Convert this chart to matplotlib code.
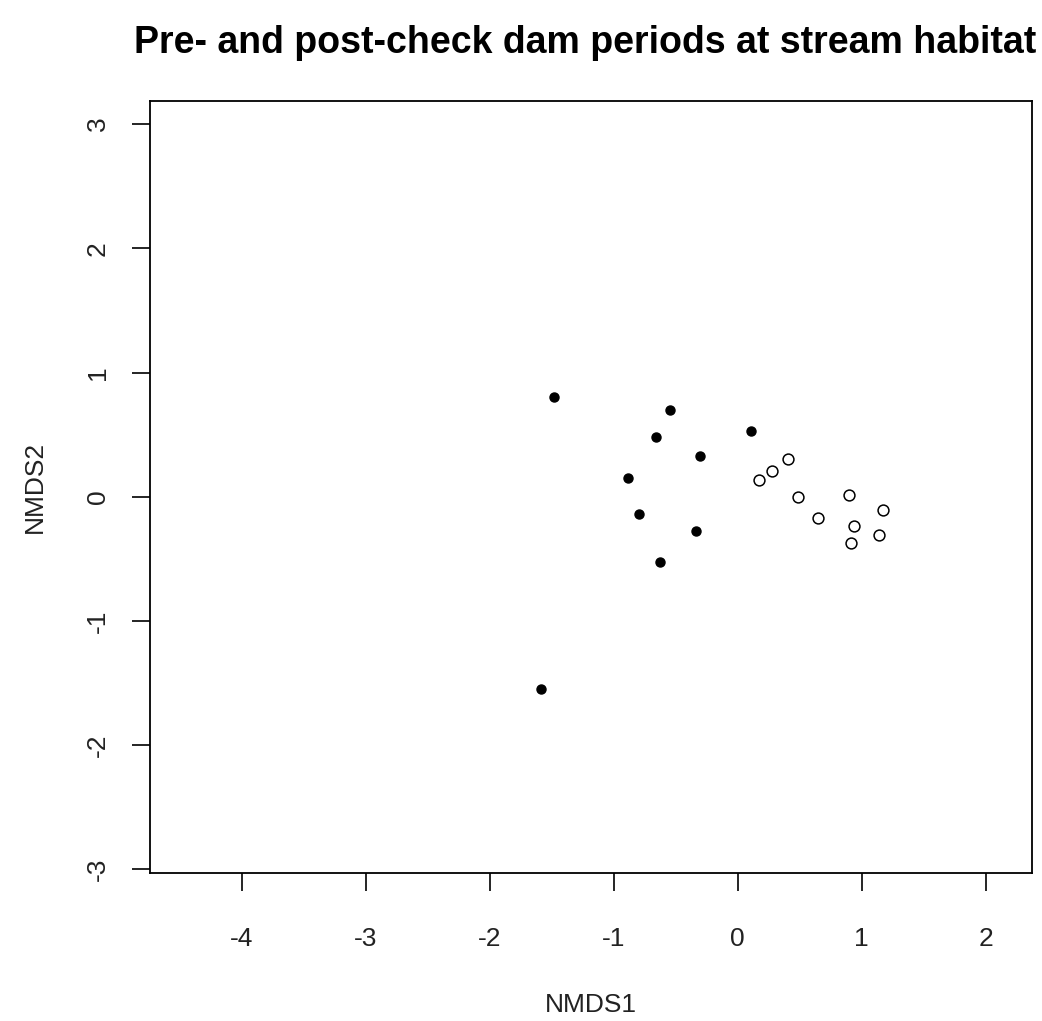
import matplotlib
matplotlib.use("Agg")
import matplotlib.pyplot as plt

plt.rcParams["font.family"]=["Liberation Sans","DejaVu Sans"]
plt.rcParams["axes.unicode_minus"]=False

# pre-check dam samples (filled)
pre_x=[-1.477,-0.544,-0.657,0.109,-0.302,-0.885,-0.792,-0.335,-0.623,-1.585]
pre_y=[0.806,0.697,0.484,0.530,0.331,0.149,-0.139,-0.278,-0.523,-1.548]

# post-check dam samples (open)
post_x=[0.410,0.276,0.171,0.490,0.899,1.171,0.652,0.942,1.141,0.913]
post_y=[0.302,0.210,0.133,-0.004,0.014,-0.109,-0.171,-0.233,-0.306,-0.370]

x_ticks=[-4,-3,-2,-1,0,1,2]
y_ticks=[-3,-2,-1,0,1,2,3]

fig=plt.figure(figsize=(10.42,10.21),dpi=100)
ax=fig.add_axes([0.144,0.145,0.8467,0.7565])

ax.plot(pre_x,pre_y,linestyle="none",marker="o",markersize=6.5,color="black")
ax.plot(post_x,post_y,linestyle="none",marker="o",markersize=7.8,markerfacecolor="white",markeredgecolor="black",markeredgewidth=1.1)

ax.set_xlim(-4.738,2.377)
ax.set_ylim(-3.03,3.19)
ax.set_xticks(x_ticks,[str(v) for v in x_ticks])
ax.set_yticks(y_ticks,[str(v) for v in y_ticks])

for s in ax.spines.values():
    s.set_linewidth(1.3)

ax.tick_params(axis="both",direction="out",length=13,width=1.2,labelsize=19,colors="black",labelcolor="#222222")
ax.tick_params(axis="x",pad=26)
ax.tick_params(axis="y",pad=16,labelrotation=90)
for lab in ax.get_yticklabels():
    lab.set_va("center")

ax.set_xlabel("NMDS1",fontsize=19,color="#222222",labelpad=30)
ax.set_ylabel("NMDS2",fontsize=19,color="#222222",labelpad=28)
ax.set_title("Pre- and post-check dam periods at stream habitat",fontsize=27,fontweight="bold",pad=34,x=0.493)

fig.savefig("out.png",dpi=100)
